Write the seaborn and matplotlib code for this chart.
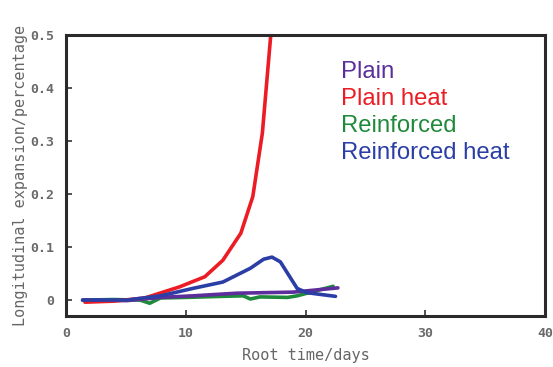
import matplotlib
matplotlib.use("Agg")
import matplotlib.pyplot as plt
import seaborn as sns
import pandas as pd

# Data
plain_t = [1.4, 5.1, 7.9, 10.6, 14.3, 19.0, 22.7]
plain_v = [0.0, -0.001, 0.005, 0.008, 0.013, 0.015, 0.023]

plain_heat_t = [1.6, 4.0, 6.6, 9.5, 11.6, 13.1, 14.6, 15.6, 16.4, 17.1, 17.4]
plain_heat_v = [-0.004, -0.002, 0.004, 0.025, 0.044, 0.075, 0.126, 0.195, 0.315, 0.5, 0.6]

reinf_t = [1.5, 4.0, 6.2, 7.0, 7.9, 10.0, 13.0, 14.8, 15.4, 16.2, 18.5, 19.3, 22.3]
reinf_v = [0.0, 0.001, 0.0, -0.006, 0.004, 0.005, 0.007, 0.008, 0.002, 0.006, 0.005, 0.008, 0.026]

reinf_heat_t = [1.4, 5.1, 7.9, 10.6, 13.1, 15.4, 16.5, 17.2, 17.9, 19.3, 20.1, 22.5]
reinf_heat_v = [0.0, 0.0, 0.008, 0.022, 0.034, 0.060, 0.077, 0.081, 0.072, 0.022, 0.014, 0.007]

series = ["Plain", "Plain heat", "Reinforced", "Reinforced heat"]
colors = ["#5b2e9c", "#ec1c24", "#1f8a3b", "#2b3ea6"]

x_ticks = [0, 10, 20, 30, 40]
y_ticks = [0, 0.1, 0.2, 0.3, 0.4, 0.5]
y_labels = ["0", "0.1", "0.2", "0.3", "0.4", "0.5"]

frames = []
for name, t, v in zip(series,
                      [plain_t, plain_heat_t, reinf_t, reinf_heat_t],
                      [plain_v, plain_heat_v, reinf_v, reinf_heat_v]):
    frames.append(pd.DataFrame({"t": t, "v": v, "series": name}))
df = pd.concat(frames, ignore_index=True)

sns.set_style("white")
fig = plt.figure(figsize=(5.53, 3.67), dpi=100)
ax = fig.add_axes([0.119, 0.139, 0.867, 0.766])

# draw order: green, purple, red, blue
order = ["Reinforced", "Plain", "Plain heat", "Reinforced heat"]
for name in order:
    sub = df[df["series"] == name]
    sns.lineplot(data=sub, x="t", y="v", ax=ax, color=colors[series.index(name)],
                 linewidth=2.6, estimator=None, sort=False, legend=False)

ax.set_xlim(0, 40)
ax.set_ylim(-0.03, 0.5)
ax.set_xticks(x_ticks)
ax.set_yticks(y_ticks)
ax.set_yticklabels(y_labels)
for lab in ax.get_xticklabels() + ax.get_yticklabels():
    lab.set_fontfamily("DejaVu Sans Mono")
    lab.set_fontsize(9.5)
    lab.set_fontweight("bold")
    lab.set_color("#6a6a6a")
ax.tick_params(direction="in", length=4, width=1.2, color="#333333", pad=8,
               left=True, bottom=True)
lab_font = {"family": "DejaVu Sans Mono", "size": 11, "color": "#666666",
            "weight": "normal"}
ax.set_xlabel("Root time/days", fontdict=lab_font, labelpad=6)
ax.set_ylabel("Longitudinal expansion/percentage", fontdict=lab_font, labelpad=2)
for s in ax.spines.values():
    s.set_linewidth(2.2)
    s.set_color("#2a2a2a")

for i, name in enumerate(series):
    ax.text(0.575, 0.868 - i * 0.096, name, transform=ax.transAxes,
            color=colors[i], fontsize=17.2, family="Liberation Sans", va="center")

fig.savefig("out.png", dpi=100)
